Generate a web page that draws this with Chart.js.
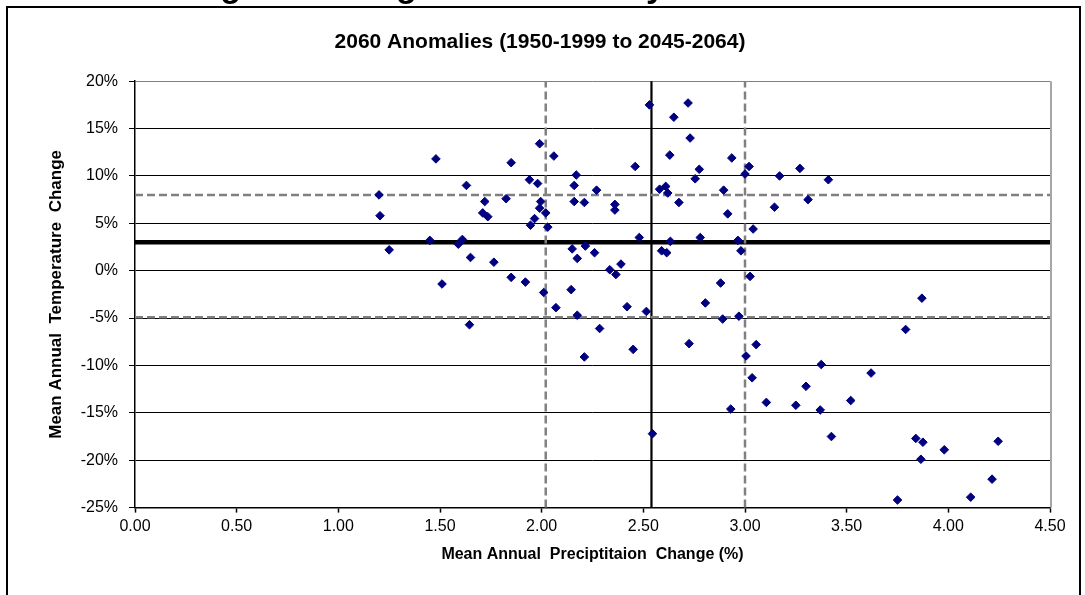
<!DOCTYPE html>
<html>
<head>
<meta charset="utf-8">
<script src="https://cdn.jsdelivr.net/npm/chart.js@4/dist/chart.umd.min.js"></script>
<style>
  html, body { margin: 0; padding: 0; background: #fff; overflow: hidden; }
  #wrap { position: relative; width: 1085px; height: 595px; overflow: hidden; }
  #heading { position: absolute; left: 156px; top: -32px; font: bold 34px/34px "Liberation Sans", Arial, sans-serif; color: #000; white-space: nowrap; z-index: 2; }
  canvas { position: absolute; left: 0; top: 0; }
</style>
</head>
<body>
<div id="wrap">
  <div id="heading">Range of Change Anomalies by 2060</div>
  <canvas id="c" width="1085" height="595"></canvas>
</div>
<script>
// ---- data ----
const chartTitle = '2060 Anomalies (1950-1999 to 2045-2064)';
const xAxisTitle = 'Mean Annual  Preciptitaion  Change (%)';
const yAxisTitle = 'Mean Annual  Temperature  Change';

// mean annual precipitation change (%) for each model run
const precipChange = [
  1.20, 1.205, 1.25, 1.45, 1.48, 1.85, 1.99, 2.06, 2.53, 2.72,
  2.65, 2.73, 2.63, 2.775, 2.755, 2.46, 2.17, 2.16, 2.27, 1.63,
  1.94, 1.98, 1.72, 1.825, 1.995, 2.16, 2.21, 2.36, 2.36, 1.71,
  1.735, 1.99, 2.02, 1.965, 1.945, 2.03, 2.58, 2.61, 2.62, 2.675,
  1.59, 1.61, 1.65, 1.765, 1.51, 1.85, 1.92, 2.01, 2.145, 2.15,
  2.175, 2.215, 2.26, 2.48, 2.335, 2.365, 2.39, 2.59, 2.615, 2.633,
  2.78, 2.07, 2.175, 2.285, 2.21, 2.42, 2.515, 2.45, 2.545, 2.725,
  2.805, 2.88, 2.89, 2.97, 3.005, 3.055, 3.035, 2.93, 3.105, 3.25,
  3.025, 2.935, 3.02, 3.00, 3.27, 3.17, 3.41, 2.895, 3.31, 3.145,
  2.915, 3.04, 2.965, 2.98, 3.87, 3.79, 3.375, 3.62, 3.30, 3.52,
  3.37, 3.425, 3.84, 3.875, 4.245, 3.98, 3.865, 4.215, 4.11, 3.75,
  1.645
];
// mean annual temperature change (%) for each model run
const tempChange = [
  8.0, 5.8, 2.2, 3.2, 11.8, 11.4, 13.4, 12.1, 17.5, 17.7,
  16.2, 14.0, 12.2, 10.7, 9.7, 11.0, 10.1, 9.0, 8.5, 9.0,
  9.6, 9.2, 7.3, 7.6, 7.3, 7.3, 7.2, 7.0, 6.4, 6.1,
  5.7, 6.6, 6.1, 5.5, 4.8, 4.6, 8.6, 8.9, 8.2, 7.2,
  2.8, 3.3, 1.4, 0.9, -1.4, -0.7, -1.2, -2.3, -2.0, 2.3,
  1.3, 2.6, 1.9, 3.5, 0.1, -0.4, 0.7, 2.1, 1.9, 3.1,
  3.5, -3.9, -4.7, -6.1, -9.1, -3.8, -4.3, -8.3, -17.2, -7.7,
  -3.4, -1.3, -5.1, -4.8, -9.0, -7.8, -11.3, -14.6, -13.9, -14.2,
  -0.6, 11.9, 11.0, 10.2, 10.8, 10.0, 9.6, 8.5, 7.5, 6.7,
  6.0, 4.4, 3.2, 2.1, -2.9, -6.2, -9.9, -10.8, -12.2, -13.7,
  -14.7, -17.5, -17.7, -18.1, -18.0, -18.9, -19.9, -22.0, -23.9, -24.2,
  -5.7
];

// reference lines (percentile markers)
const precipDashedRefs = [2.02, 3.00];
const precipSolidRef = [2.54];
const tempDashedRefs = [8.0, -4.9];
const tempSolidRef = [3.0];

// axis ranges and tick labels
const xRange = [0, 4.5];
const yRange = [-25, 20];
const xTickLabels = ['0.00','0.50','1.00','1.50','2.00','2.50','3.00','3.50','4.00','4.50'];
const yTickLabels = ['-25%','-20%','-15%','-10%','-5%','0%','5%','10%','15%','20%'];

// ---- build chart ----
const FONT = '"Liberation Sans", Arial, sans-serif';
const points = precipChange.map((x, i) => ({ x: x, y: tempChange[i] }));

function vLine(x, style) {
  return Object.assign({
    type: 'line',
    data: [{ x: x, y: yRange[0] }, { x: x, y: yRange[1] }],
    pointRadius: 0, fill: false, tension: 0, order: 5, clip: false
  }, style);
}
function hLine(y, style) {
  return Object.assign({
    type: 'line',
    data: [{ x: xRange[0], y: y }, { x: xRange[1], y: y }],
    pointRadius: 0, fill: false, tension: 0, order: 5, clip: false
  }, style);
}
const dashedStyle = { borderColor: '#808080', borderWidth: 2.5, borderDash: [8, 4] };
const datasets = [
  {
    type: 'scatter',
    label: 'Models',
    data: points,
    pointStyle: 'rectRot',
    pointRadius: 4.3,
    pointBorderWidth: 1,
    backgroundColor: '#000080',
    borderColor: '#000080',
    order: 0
  }
];
tempDashedRefs.forEach(v => datasets.push(hLine(v, dashedStyle)));
precipDashedRefs.forEach(v => datasets.push(vLine(v, dashedStyle)));
tempSolidRef.forEach(v => datasets.push(hLine(v, { borderColor: '#000', borderWidth: 4.5 })));
precipSolidRef.forEach(v => datasets.push(vLine(v, { borderColor: '#000', borderWidth: 2.2 })));

const framePlugin = {
  id: 'frame',
  beforeDraw(chart) {
    const ctx = chart.ctx;
    ctx.save();
    ctx.fillStyle = '#fff';
    ctx.fillRect(0, 0, chart.width, chart.height);
    ctx.strokeStyle = '#000';
    ctx.lineWidth = 2;
    ctx.strokeRect(7, 7, 1073, 640);
    ctx.restore();
  },
  afterDatasetsDraw(chart) {
    const a = chart.chartArea;
    const ctx = chart.ctx;
    ctx.save();
    ctx.strokeStyle = '#a6a6a6';
    ctx.lineWidth = 2;
    ctx.beginPath();
    ctx.moveTo(a.right + 1, a.top);
    ctx.lineTo(a.right + 1, a.bottom);
    ctx.stroke();
    ctx.restore();
  }
};

new Chart(document.getElementById('c'), {
  type: 'scatter',
  data: { datasets: datasets },
  plugins: [framePlugin],
  options: {
    responsive: false,
    animation: false,
    devicePixelRatio: 1,
    layout: { padding: { left: 30, right: 35, top: 0, bottom: 23 } },
    plugins: {
      legend: { display: false },
      tooltip: { enabled: false },
      title: {
        display: true,
        text: chartTitle,
        color: '#000',
        font: { family: FONT, size: 21, weight: 'bold' },
        padding: { top: 30, bottom: 26 }
      }
    },
    scales: {
      x: {
        type: 'linear',
        min: xRange[0], max: xRange[1],
        border: { display: true, color: '#000', width: 1.5 },
        grid: { display: true, drawOnChartArea: false, drawTicks: true, tickLength: 5, tickColor: '#000', tickWidth: 1.5 },
        ticks: {
          stepSize: 0.5, color: '#000', padding: 4, maxRotation: 0, autoSkip: false,
          font: { family: FONT, size: 16 },
          callback: (v, i) => xTickLabels[i] !== undefined ? xTickLabels[i] : Number(v).toFixed(2)
        },
        title: {
          display: true, text: xAxisTitle, color: '#000',
          font: { family: FONT, size: 16, weight: 'bold' },
          padding: { top: 5, bottom: 8 }
        }
      },
      y: {
        type: 'linear',
        min: yRange[0], max: yRange[1],
        afterFit: (s) => { s.width = 105; },
        border: { display: true, color: '#000', width: 1.5 },
        grid: {
          display: true, drawOnChartArea: true, drawTicks: true, tickLength: 6,
          color: (c) => (c.tick && c.tick.value === yRange[1]) ? '#808080' : '#000',
          lineWidth: 1, tickColor: '#000'
        },
        ticks: {
          stepSize: 5, color: '#000', padding: 11, autoSkip: false,
          font: { family: FONT, size: 16 },
          callback: (v, i) => yTickLabels[i] !== undefined ? yTickLabels[i] : v + '%'
        },
        title: {
          display: true, text: yAxisTitle, color: '#000',
          font: { family: FONT, size: 17, weight: 'bold' },
          padding: { top: 16, bottom: 0 }
        }
      }
    }
  }
});
</script>
</body>
</html>
